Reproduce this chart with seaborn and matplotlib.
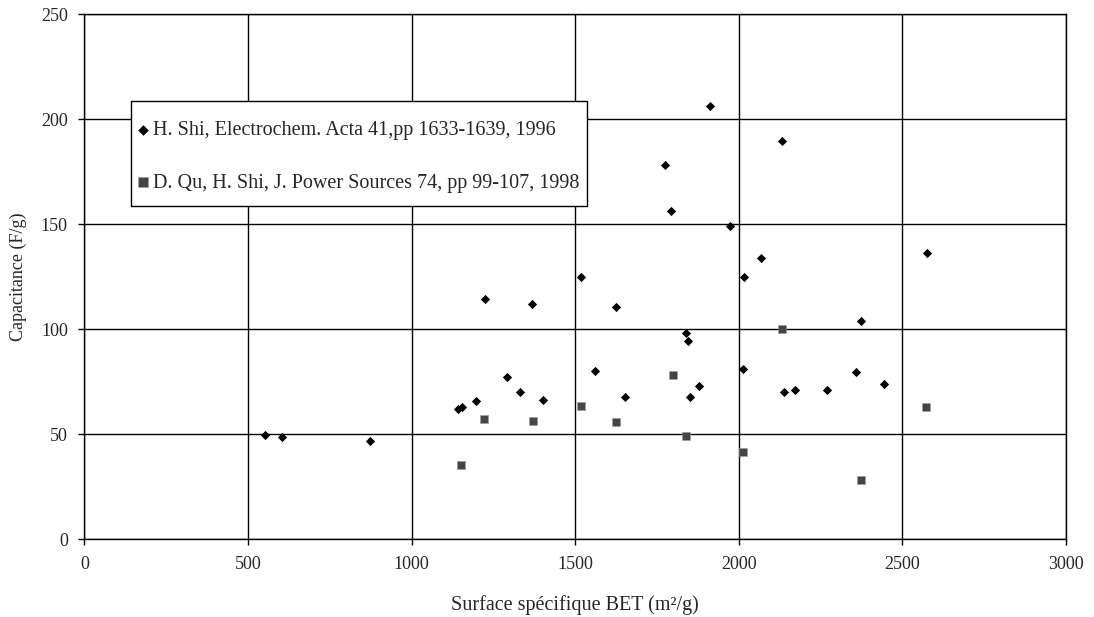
import pandas as pd
import matplotlib.pyplot as plt
import seaborn as sns
from matplotlib.patches import Rectangle

# Data
shi_bet = [551, 605, 873, 1142, 1153, 1197, 1224, 1292, 1330, 1369, 1402,
           1517, 1560, 1624, 1652, 1775, 1792, 1838, 1845, 1850, 1879, 1912,
           1974, 2013, 2016, 2068, 2131, 2139, 2171, 2270, 2359, 2373, 2443, 2574]
shi_cap = [49.7, 48.9, 47.0, 61.9, 63.1, 65.8, 114.4, 77.3, 70.1, 112.0, 66.2,
           124.9, 80.1, 110.6, 67.9, 178.1, 156.2, 98.1, 94.4, 67.8, 73.0, 206.5,
           149.0, 81.0, 124.9, 133.8, 189.5, 70.1, 71.1, 70.9, 79.7, 103.8, 73.8, 136.3]

qu_bet = [1150, 1222, 1370, 1517, 1624, 1799, 1839, 2012, 2131, 2372, 2573]
qu_cap = [35.4, 57.3, 56.2, 63.5, 56.0, 78.2, 49.0, 41.4, 100.1, 28.1, 63.1]

label_shi = "H. Shi, Electrochem. Acta 41,pp 1633-1639, 1996"
label_qu = "D. Qu, H. Shi, J. Power Sources 74, pp 99-107, 1998"

df_shi = pd.DataFrame({"bet": shi_bet, "cap": shi_cap})
df_qu = pd.DataFrame({"bet": qu_bet, "cap": qu_cap})

sns.set_style("white")
plt.rcParams['font.family'] = ['Liberation Serif', 'DejaVu Serif']

fig = plt.figure(figsize=(10.94, 6.17), dpi=100)
ax = fig.add_axes([0.0772, 0.126, 0.8972, 0.8508])

sns.scatterplot(data=df_shi, x="bet", y="cap", marker="D", s=22, color="black",
                edgecolor="black", linewidth=0, label=label_shi, ax=ax, zorder=3)
sns.scatterplot(data=df_qu, x="bet", y="cap", marker="s", s=34, color="#454545",
                edgecolor="#9a9a9a", linewidth=0.4, label=label_qu, ax=ax, zorder=3)

ax.set_xlim(0, 3000)
ax.set_ylim(0, 250)
ax.set_xticks(range(0, 3001, 500))
ax.set_yticks(range(0, 251, 50))
ax.grid(True, color="black", linewidth=1.0)
ax.set_axisbelow(True)
for sp in ax.spines.values():
    sp.set_color("black")
    sp.set_linewidth(1.0)
ax.tick_params(direction="out", length=4, width=1, color="black",
               labelsize=13, pad=8, left=True, bottom=True)

ax.set_xlabel("Surface spécifique BET (m²/g)", fontsize=14.5, labelpad=16)
ax.set_ylabel("Capacitance (F/g)", fontsize=13, labelpad=10)

# legend box drawn separately so the rows can sit lower inside it
box = Rectangle((0.0474, 0.6349), 0.4646, 0.2, transform=ax.transAxes,
                facecolor="white", edgecolor="black", linewidth=1.0, zorder=4)
ax.add_patch(box)
leg = ax.legend(loc="upper left", bbox_to_anchor=(0.0535, 0.7965), fontsize=14.5,
                frameon=False, borderpad=0, labelspacing=1.65, handletextpad=0.2,
                handlelength=0.6, borderaxespad=0, markerscale=1.15)
leg.set_zorder(5)

fig.savefig("out.png", dpi=100)
